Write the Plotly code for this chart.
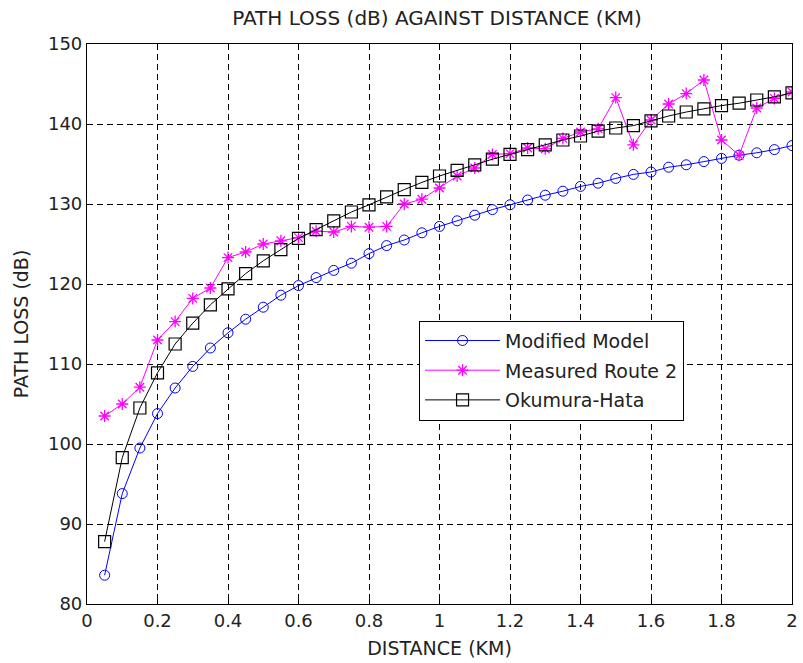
import plotly.graph_objects as go

distance_km = [0.05, 0.10, 0.15, 0.20, 0.25, 0.30, 0.35, 0.40, 0.45, 0.50,
               0.55, 0.60, 0.65, 0.70, 0.75, 0.80, 0.85, 0.90, 0.95, 1.00,
               1.05, 1.10, 1.15, 1.20, 1.25, 1.30, 1.35, 1.40, 1.45, 1.50,
               1.55, 1.60, 1.65, 1.70, 1.75, 1.80, 1.85, 1.90, 1.95, 2.00]

modified_model = [83.6, 93.8, 99.5, 103.8, 107.0, 109.7, 112.0, 113.9, 115.6, 117.1,
                  118.6, 119.8, 120.8, 121.7, 122.6, 123.8, 124.8, 125.5, 126.4, 127.2,
                  127.9, 128.6, 129.3, 129.9, 130.5, 131.1, 131.6, 132.2, 132.6, 133.2,
                  133.7, 134.0, 134.6, 134.9, 135.3, 135.7, 136.1, 136.4, 136.8, 137.3]

measured_route2 = [103.5, 105.0, 107.1, 113.0, 115.3, 118.2, 119.5, 123.3, 124.0, 125.0,
                   125.4, 125.8, 126.6, 126.5, 127.2, 127.1, 127.2, 130.0, 130.6, 132.0,
                   133.5, 134.5, 136.2, 136.3, 137.0, 136.9, 138.2, 139.0, 139.4, 143.3,
                   137.4, 140.5, 142.5, 143.8, 145.5, 138.0, 136.1, 142.0, 143.2, 144.0]

okumura_hata = [87.8, 98.3, 104.5, 108.9, 112.5, 115.1, 117.4, 119.4, 121.3, 122.9,
                124.3, 125.7, 126.8, 127.9, 129.0, 129.9, 130.9, 131.8, 132.7, 133.5,
                134.2, 134.9, 135.6, 136.2, 136.8, 137.4, 138.0, 138.5, 139.1, 139.5,
                139.8, 140.4, 141.0, 141.5, 141.9, 142.3, 142.6, 143.0, 143.4, 143.9]

x_tick_vals = [0, 0.2, 0.4, 0.6, 0.8, 1.0, 1.2, 1.4, 1.6, 1.8, 2.0]
x_tick_text = ["0", "0.2", "0.4", "0.6", "0.8", "1", "1.2", "1.4", "1.6", "1.8", "2"]
y_tick_vals = [80, 90, 100, 110, 120, 130, 140, 150]

FONT = "DejaVu Sans, sans-serif"
TXT = "#222222"

fig = go.Figure()
fig.add_trace(go.Scatter(
    x=distance_km, y=modified_model, name="Modified Model", mode="lines+markers",
    line=dict(color="#0000FF", width=1),
    marker=dict(symbol="circle-open", size=10, color="#0000FF", line=dict(width=1)),
    legendgroup="a"))
fig.add_trace(go.Scatter(
    x=distance_km, y=measured_route2, name="Measured Route 2", mode="lines+markers",
    line=dict(color="#FF00FF", width=1),
    marker=dict(symbol="asterisk-open", size=10, color="#FF00FF", line=dict(width=1.3, color="#FF00FF")),
    legendgroup="b"))
fig.add_trace(go.Scatter(
    x=distance_km, y=okumura_hata, name="Okumura-Hata", mode="lines+markers",
    line=dict(color="#000000", width=1),
    marker=dict(symbol="square-open", size=12, color="#000000", line=dict(width=1.2)),
    legendgroup="c"))

axis_common = dict(
    showline=True, linecolor="black", linewidth=1.2, mirror="allticks",
    ticks="inside", ticklen=4, tickcolor="black",
    showgrid=True, gridcolor="black", gridwidth=1, griddash="6px,4px",
    zeroline=False, ticklabeloverflow="allow",
    tickfont=dict(family=FONT, size=18, color=TXT),
)

fig.update_xaxes(range=[0, 2], tickvals=x_tick_vals, ticktext=x_tick_text,
                 title=dict(text="DISTANCE (KM)", font=dict(family=FONT, size=19, color=TXT), standoff=11),
                 **axis_common)
fig.update_yaxes(range=[80, 150], tickvals=y_tick_vals,
                 title=dict(text="PATH LOSS (dB)", font=dict(family=FONT, size=19, color=TXT), standoff=14),
                 **axis_common)

fig.update_layout(
    width=803, height=663,
    margin=dict(l=87, r=5, t=44, b=59),
    paper_bgcolor="white", plot_bgcolor="white",
    title=dict(text="PATH LOSS (dB) AGAINST DISTANCE (KM)", x=437/803, xanchor="center",
               y=1 - 18/663, yanchor="middle", font=dict(family=FONT, size=20, color=TXT)),
    legend=dict(x=0.471, y=0.506, xanchor="left", yanchor="top",
                bgcolor="white", bordercolor="black", borderwidth=1,
                font=dict(family=FONT, size=19, color=TXT),
                itemwidth=75, tracegroupgap=2),
    showlegend=True,
)

fig.write_html("out.html")
